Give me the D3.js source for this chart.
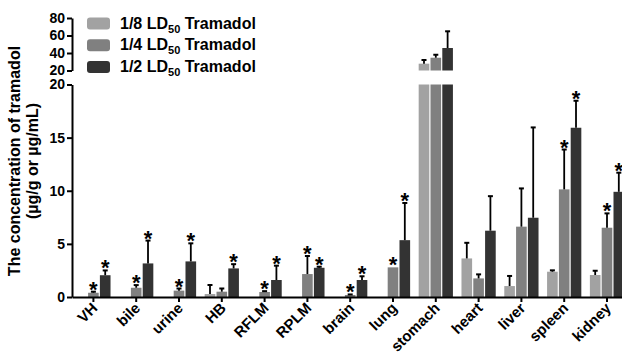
<!DOCTYPE html>
<html>
<head>
<meta charset="utf-8">
<script src="https://cdn.jsdelivr.net/npm/d3@7"></script>
<style>
  body { margin: 0; background: #fff; }
  svg { display: block; font-family: "Liberation Sans", Arial, sans-serif; }
</style>
</head>
<body>
<div id="vis"></div>
<script>
const FRAME_WIDTH = 622;
const FRAME_HEIGHT = 352;

// data
const organs = ["VH", "bile", "urine", "HB", "RFLM", "RPLM", "brain", "lung", "stomach", "heart", "liver", "spleen", "kidney"];
const doses = ["1/8", "1/4", "1/2"];
const doseColors = ["#a2a2a2", "#808080", "#333333"];

const dose18 = [0, 0, 0, 0.28, 0, 0, 0, 0, 27.8, 3.63, 1.03, 2.38, 2.07];
const dose18Err = [0, 0, 0, 0.85, 0, 0, 0, 0, 4.2, 1.47, 0.95, 0.13, 0.4];
const dose14 = [0.4, 0.87, 0.6, 0.5, 0.47, 2.16, 0.19, 2.79, 34.6, 1.75, 6.62, 10.13, 6.52];
const dose14Err = [0.1, 0.25, 0.2, 0.3, 0.08, 1.7, 0.05, 0, 3.4, 0.38, 3.6, 3.75, 1.35];
const dose12 = [2.05, 3.16, 3.35, 2.69, 1.6, 2.75, 1.6, 5.35, 45.7, 6.24, 7.46, 15.93, 9.9];
const dose12Err = [0.45, 2.15, 1.7, 0.4, 1.35, 0.1, 0.35, 3.5, 19.1, 3.25, 8.5, 2.54, 1.8];

// 1 = significant (asterisk)
const star18 = [0, 0, 0, 0, 0, 0, 0, 0, 0, 0, 0, 0, 0];
const star14 = [1, 1, 1, 0, 1, 1, 1, 1, 0, 0, 0, 1, 1];
const star12 = [1, 1, 1, 1, 1, 1, 1, 1, 0, 0, 0, 1, 1];

const lowerTicks = [0, 5, 10, 15, 20];
const upperTicks = [20, 40, 60, 80];
const BREAK = 20;

const series = [
  {dose: doses[0], values: dose18, errs: dose18Err, stars: star18},
  {dose: doses[1], values: dose14, errs: dose14Err, stars: star14},
  {dose: doses[2], values: dose12, errs: dose12Err, stars: star12}
];

const rows = [];
organs.forEach((o, i) => {
  series.forEach((s) => {
    rows.push({organ: o, dose: s.dose, value: s.values[i], err: s.errs[i], star: s.stars[i]});
  });
});

const svg = d3.select("#vis")
              .append("svg")
              .attr("width", FRAME_WIDTH)
              .attr("height", FRAME_HEIGHT);

const X0 = d3.scaleBand()
             .domain(organs)
             .range([72, 628.4])
             .paddingInner(0.2)
             .paddingOuter(0.1);

const X1 = d3.scaleBand()
             .domain(doses)
             .range([0, X0.bandwidth()])
             .paddingInner(0.1);

const Y_LOW = d3.scaleLinear().domain([0, 20]).range([297, 84.5]);
const Y_HIGH = d3.scaleLinear().domain([20, 80]).range([70.5, 18]);

const COLOR = d3.scaleOrdinal().domain(doses).range(doseColors);

// y position for any value, on whichever segment it lands
function yOf(v) { return v <= BREAK ? Y_LOW(v) : Y_HIGH(v); }

// bars (lower segment)
svg.append("g")
   .selectAll("rect")
   .data(rows.filter((d) => d.value > 0))
   .enter()
   .append("rect")
     .attr("x", (d) => X0(d.organ) + X1(d.dose))
     .attr("width", X1.bandwidth())
     .attr("y", (d) => Y_LOW(Math.min(d.value, BREAK)))
     .attr("height", (d) => Y_LOW(0) - Y_LOW(Math.min(d.value, BREAK)))
     .attr("fill", (d) => COLOR(d.dose));

// bars (upper segment)
svg.append("g")
   .selectAll("rect")
   .data(rows.filter((d) => d.value > BREAK))
   .enter()
   .append("rect")
     .attr("x", (d) => X0(d.organ) + X1(d.dose))
     .attr("width", X1.bandwidth())
     .attr("y", (d) => Y_HIGH(d.value))
     .attr("height", (d) => Y_HIGH(BREAK) - Y_HIGH(d.value))
     .attr("fill", (d) => COLOR(d.dose));

// error bars, upward only
const errRows = rows.filter((d) => d.err > 0);
const cx = (d) => X0(d.organ) + X1(d.dose) + X1.bandwidth() / 2;

svg.append("g")
   .selectAll("line")
   .data(errRows)
   .enter()
   .append("line")
     .attr("x1", cx)
     .attr("x2", cx)
     .attr("y1", (d) => yOf(d.value))
     .attr("y2", (d) => yOf(d.value + d.err))
     .attr("stroke", "#000")
     .attr("stroke-width", 1.8);

svg.append("g")
   .selectAll("line")
   .data(errRows)
   .enter()
   .append("line")
     .attr("x1", (d) => cx(d) - 2.5)
     .attr("x2", (d) => cx(d) + 2.5)
     .attr("y1", (d) => yOf(d.value + d.err))
     .attr("y2", (d) => yOf(d.value + d.err))
     .attr("stroke", "#000")
     .attr("stroke-width", 2);

// asterisks
svg.append("g")
   .selectAll("text")
   .data(rows.filter((d) => d.star))
   .enter()
   .append("text")
     .attr("x", cx)
     .attr("y", (d) => yOf(d.value + d.err) + 5)
     .attr("text-anchor", "middle")
     .attr("font-size", "22px")
     .attr("font-weight", "bold")
     .text("*");

// axes
const lowAxis = svg.append("g")
   .attr("transform", "translate(72,0)")
   .call(d3.axisLeft(Y_LOW).tickValues(lowerTicks).tickSize(5).tickSizeOuter(0).tickPadding(2));

const highAxis = svg.append("g")
   .attr("transform", "translate(72,0)")
   .call(d3.axisLeft(Y_HIGH).tickValues(upperTicks).tickSize(5).tickSizeOuter(0).tickPadding(2));

const xAxis = svg.append("g")
   .attr("transform", "translate(0,297)")
   .call(d3.axisBottom(X0).tickSize(5).tickSizeOuter(0));

[lowAxis, highAxis, xAxis].forEach((ax) => {
  ax.select(".domain").attr("stroke-width", 2);
  ax.selectAll(".tick line").attr("stroke-width", 2);
  ax.selectAll("text")
    .attr("font-family", "Liberation Sans, Arial, sans-serif")
    .attr("font-weight", "bold")
    .attr("font-size", "14px")
    .attr("fill", "#000");
});

xAxis.selectAll("text")
     .attr("font-size", "15px")
     .attr("text-anchor", "end")
     .attr("dy", null)
     .attr("y", null)
     .attr("transform", "translate(5,12) rotate(-45)");

// y label
const yLabel = svg.append("text")
   .attr("transform", "translate(20,161) rotate(-90)")
   .attr("text-anchor", "middle")
   .attr("font-size", "16px")
   .attr("font-weight", "bold");
yLabel.append("tspan").attr("x", 0).attr("dy", 0).text("The concentration of tramadol");
yLabel.append("tspan").attr("x", 0).attr("dy", 18).text("(\u00b5g/g or \u00b5g/mL)");

// legend
const legend = svg.append("g")
   .selectAll("g")
   .data(doses)
   .enter()
   .append("g")
     .attr("transform", (d, i) => "translate(87," + (17.5 + i * 21.8) + ")");

legend.append("rect")
      .attr("width", 23)
      .attr("height", 12)
      .attr("rx", 3)
      .attr("fill", (d) => COLOR(d));

const legText = legend.append("text")
      .attr("x", 33)
      .attr("y", 11)
      .attr("font-size", "16px")
      .attr("font-weight", "bold");
legText.append("tspan").text((d) => d + " LD");
legText.append("tspan").attr("font-size", "11px").attr("dy", 4).text("50");
legText.append("tspan").attr("dy", -4).text(" Tramadol");
</script>
</body>
</html>
